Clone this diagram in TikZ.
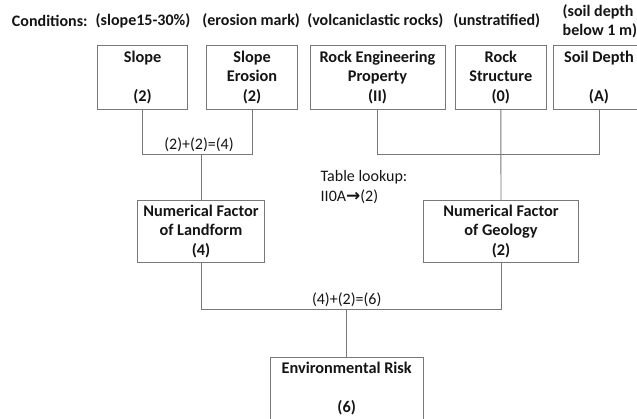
\documentclass[tikz,border=0pt]{standalone}
\usepackage{fontspec}
\setmainfont{Carlito}
\newfontfamily\arrowfont{DejaVu Sans}
\definecolor{lc}{RGB}{120,120,120}
\definecolor{tc}{RGB}{20,20,20}
\begin{document}
\begin{tikzpicture}[x=1pt,y=-1pt,
  every node/.style={inner sep=0pt,outer sep=0pt,text=tc},
  lbl/.style={font=\fontsize{16}{19.3}\selectfont\bfseries},
  plain/.style={font=\fontsize{16}{19.3}\selectfont},
  box/.style={draw=lc,line width=0.9pt,align=center,font=\fontsize{16.3}{19.3}\selectfont\bfseries},
  conn/.style={draw=lc,line width=0.9pt}]
\useasboundingbox (0,0) rectangle (637,418);
% condition labels
\node[lbl,anchor=west] (c0) at (12,20.7) {Conditions:};
\node[lbl] (c1) at (143,20.7) {(slope15-30\%)};
\node[lbl] (c2) at (251.2,20.7) {(erosion mark)};
\node[lbl,anchor=west] (c3) at (307.3,20.7) {(volcaniclastic rocks)};
\node[lbl] (c4) at (496.7,20.7) {(unstratified)};
\node[lbl,anchor=west,align=left] (c5) at (562.7,21) {(soil depth\\below 1 m)};
% top boxes
\node[box,minimum width=90.4pt,minimum height=63.6pt] (slope) at (142.5,77.5) {Slope\\[19.3pt](2)};
\node[box,minimum width=90.6pt,minimum height=63.6pt] (eros) at (252,77.5) {Slope\\Erosion\\(2)};
\node[box,minimum width=135pt,minimum height=63.6pt] (reng) at (377.5,77.5) {Rock Engineering\\Property\\(II)};
\node[box,minimum width=90.3pt,minimum height=63.6pt] (rstr) at (500.8,77.5) {Rock\\Structure\\(0)};
\node[box,minimum width=91.4pt,minimum height=63.6pt] (soil) at (599,77.5) {Soil Depth\\[19.3pt](A)};
% middle boxes
\node[box,minimum width=126.6pt,minimum height=62.7pt] (land) at (201,231.35) {Numerical Factor\\of Landform\\(4)};
\node[box,minimum width=154.3pt,minimum height=62.7pt] (geo) at (501,231.35) {Numerical Factor\\of Geology\\(2)};
% bottom box
\node[box,minimum width=153pt,minimum height=63.6pt] (env) at (346.7,388.8) {Environmental Risk\\[19.3pt](6)};
% junction coordinates
\coordinate (j1) at (142.5,154);
\coordinate (j2) at (252,154);
\coordinate (j3) at (377.5,154);
\coordinate (j4) at (599,154);
\coordinate (k1) at (201,309.3);
\coordinate (k2) at (501,309.3);
\coordinate (k3) at (346.7,309.3);
% connectors
\draw[conn] (slope.south) -- (j1) -- (j2) -- (eros.south);
\draw[conn] (201,154) -- (land.north);
\draw[conn] (reng.south) -- (j3) -- (j4) -- (soil.south);
\draw[conn] (rstr.south) -- (geo.north);
\draw[conn] (land.south) -- (k1) -- (k2) -- (geo.south);
\draw[conn] (k3) -- (env.north);
% sums
\node[plain] (s1) at (199,145) {(2)+(2)=(4)};
\node[plain] (s2) at (346.7,299.3) {(4)+(2)=(6)};
\node[plain,anchor=west,align=left] (tl) at (320.7,187) {Table lookup:\\II0A{\arrowfont\fontsize{17}{19.3}\selectfont\bfseries →}(2)};
\end{tikzpicture}
\end{document}
